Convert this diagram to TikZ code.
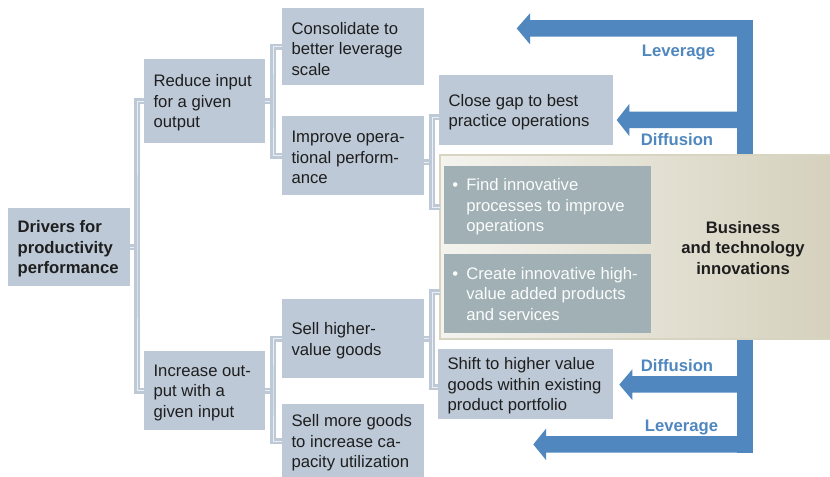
\documentclass[tikz,border=0pt]{standalone}
\usepackage{fontspec}
\setmainfont{Liberation Sans}
\definecolor{boxblue}{HTML}{BDC9D7}
\definecolor{innerbox}{HTML}{A0B0B4}
\definecolor{flow}{HTML}{4F87BE}
\definecolor{ink}{HTML}{1E1E1E}
\definecolor{panelL}{HTML}{F4F3EE}
\definecolor{panelR}{HTML}{D5D1BD}
\definecolor{panelEdge}{HTML}{D8D4C2}

% a filled box with a left-aligned text block inset from its west side
\newcommand\tbox[6]{%
  \node[box, minimum width=#4*0.75pt, minimum height=#5*0.75pt] (#1) at (#2,#3) {};
  \node[txt] (#1-t) at ([xshift=7pt,yshift=-1.6pt]#1.west) {#6};}

\begin{document}
\begin{tikzpicture}[x=0.75pt,y=-0.75pt,
  box/.style={fill=boxblue, inner sep=0pt, outer sep=0pt, anchor=north west},
  txt/.style={anchor=west, inner sep=0pt, align=left, text=ink,
              font=\fontsize{12.5}{15.4}\selectfont},
  wtxt/.style={anchor=west, inner sep=0pt, text=white!96!innerbox,
              font=\fontsize{12.5}{15.4}\selectfont},
  btxt/.style={inner sep=0pt, align=center, text=ink,
              font=\fontsize{12.5}{15.4}\selectfont\bfseries},
  lab/.style={inner sep=0pt, text=flow, font=\fontsize{12.5}{15.4}\selectfont\bfseries},
  conn/.style={draw=boxblue, double=boxblue!30, double distance=0.7pt, line width=1.9pt},
  flowfill/.style={fill=flow, draw=none}]

\useasboundingbox (0,0) rectangle (830,476);
\fill[white] (0,0) rectangle (830,476);

% feedback arrows from the innovation column
\path[flowfill] (736.7,20) rectangle (752.7,452.7);
\path[flowfill] (737,20) -- (530,20) -- (530,13.3) -- (516.7,28.4)
  -- (530,44.3) -- (530,36.7) -- (737,36.7) -- cycle;
\path[flowfill] (737,111.7) -- (629.3,111.7) -- (629.3,104) -- (616.7,120)
  -- (629.3,136) -- (629.3,128) -- (737,128) -- cycle;
\path[flowfill] (737,376) -- (632.3,376) -- (632.3,369.3) -- (619.3,384.6)
  -- (632.3,400) -- (632.3,392.7) -- (737,392.7) -- cycle;
\path[flowfill] (737,436) -- (546,436) -- (546,428.7) -- (533.3,444.4)
  -- (546,460) -- (546,452.7) -- (737,452.7) -- cycle;

\node[lab] (lev1) at (678.5,52.5) {Leverage};
\node[lab] (dif1) at (677,139.5) {Diffusion};
\node[lab] (dif2) at (677,365.5) {Diffusion};
\node[lab] (lev2) at (681.5,427.5) {Leverage};

% innovation panel
\node[anchor=north west, inner sep=0pt, outer sep=0pt,
      minimum width=392*0.75pt, minimum height=184*0.75pt,
      left color=panelL, right color=panelR, draw=panelEdge, line width=1.2pt]
      (panel) at (440,155) {};
\node[box, fill=innerbox, minimum width=207*0.75pt, minimum height=78*0.75pt]
      (fnd) at (444,166) {};
\node[box, fill=innerbox, minimum width=207*0.75pt, minimum height=79*0.75pt]
      (cre) at (444,254) {};
\node[wtxt] (fnd-t) at ([xshift=6pt,yshift=-1.6pt]fnd.west)
  {\begin{tabular}{@{}l@{}l@{}}\makebox[10.5pt][l]{\textbullet}&Find innovative\\
   &processes to improve\\&operations\end{tabular}};
\node[wtxt] (cre-t) at ([xshift=6pt,yshift=-1.6pt]cre.west)
  {\begin{tabular}{@{}l@{}l@{}}\makebox[10.5pt][l]{\textbullet}&Create innovative high-\\
   &value added products\\&and services\end{tabular}};
\node[btxt] (biz) at (743,248) {Business\\and technology\\innovations};

% driver tree
\tbox{drv}{8}{208}{122}{78}{\bfseries Drivers for\\\bfseries productivity\\\bfseries performance}
\tbox{red}{144}{59}{121}{84}{Reduce input\\for a given\\output}
\tbox{inc}{144}{351}{121}{79}{Increase out-\\put with a\\given input}
\tbox{con}{282}{8}{142}{77}{Consolidate to\\better leverage\\scale}
\tbox{imp}{282}{116}{142}{79}{Improve opera-\\tional perform-\\ance}
\tbox{shi}{282}{299}{142}{79}{Sell higher-\\value goods}
\tbox{mor}{282}{404}{142}{74}{Sell more goods\\to increase ca-\\pacity utilization}
\tbox{gap}{439}{75}{174}{70}{Close gap to best\\practice operations}
\tbox{sft}{438}{349}{175}{70}{Shift to higher value\\goods within existing\\product portfolio}

% junction points of the brackets
\coordinate (j1) at (137,247);
\coordinate (j2) at (273,101);
\coordinate (j3) at (432,162);
\coordinate (j3t) at (432,117);
\coordinate (j3b) at (432,207);
\coordinate (j4) at (432,338.5);
\coordinate (j4t) at (432,292);
\coordinate (j4b) at (432,387);
\coordinate (j5) at (273,390.5);

% connectors
\draw[conn] (drv.east) -- (j1);
\draw[conn] (red.west) -| (j1) |- (inc.west);
\draw[conn] (red.east) -- (j2);
\draw[conn] (con.west) -| (j2) |- (imp.west);
\draw[conn] (imp.east |- j3) -- (j3);
\draw[conn] (gap.west |- j3t) -- (j3t) -- (j3b) -- (panel.west |- j3b);
\draw[conn] (shi.east) -- (j4);
\draw[conn] (panel.west |- j4t) -- (j4t) -- (j4b) -- (sft.west |- j4b);
\draw[conn] (inc.east) -- (j5);
\draw[conn] (shi.west) -| (j5) |- (mor.west);
\end{tikzpicture}
\end{document}
